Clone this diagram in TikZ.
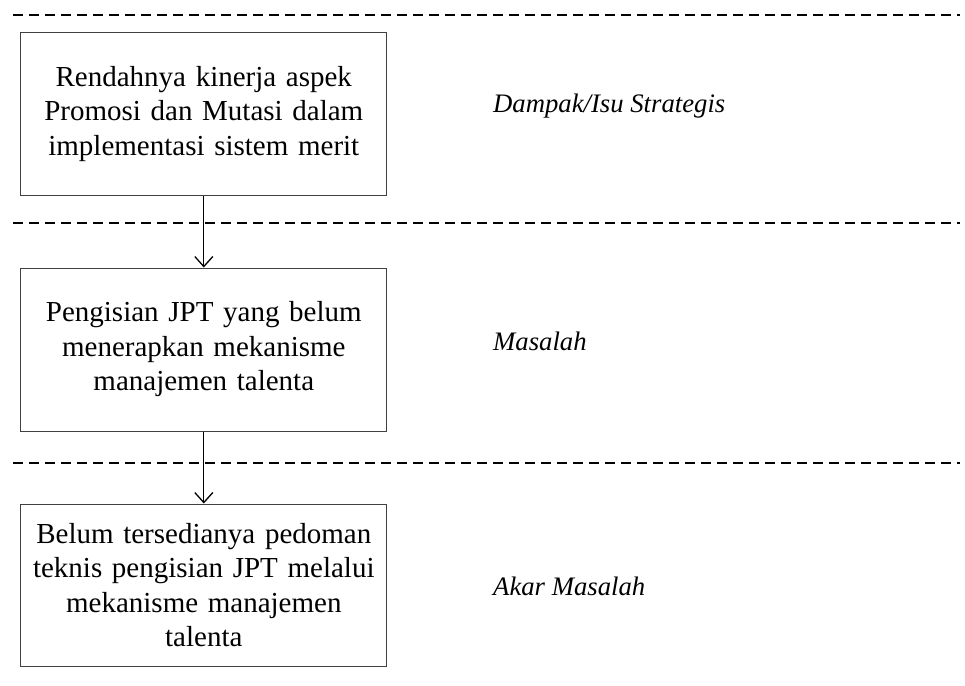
\documentclass[tikz,border=0pt]{standalone}
\usepackage{fontspec}
\setmainfont{Liberation Serif}
\usetikzlibrary{arrows.meta}
\tikzset{
  boxnode/.style={draw=black!75, line width=1pt, minimum width=366pt, minimum height=162pt,
    text width=362pt, align=center, inner sep=0pt,
    font=\fontsize{29}{34.5}\selectfont},
  levellabel/.style={anchor=base west, inner sep=0pt, font=\fontsize{26.7}{30}\selectfont\itshape},
  sepline/.style={line width=1.5pt, dash pattern=on 10pt off 6pt},
  flow/.style={line width=1.3pt, -{Straight Barb[length=10pt,width=18pt]}}
}
\begin{document}
\begin{tikzpicture}[x=1pt,y=-1pt]
\useasboundingbox (0,0) rectangle (965,685);
\draw[sepline] (13,15) -- (960,15);
\draw[sepline] (13,223) -- (960,223);
\draw[sepline] (13,463) -- (960,463);
\node[boxnode] (b1) at (203.8,114) {Rendahnya kinerja aspek\\Promosi dan Mutasi dalam\\implementasi sistem merit};
\node[boxnode, minimum height=163pt] (b2) at (203.8,349.5) {Pengisian JPT yang belum\\menerapkan mekanisme\\manajemen talenta};
\node[boxnode] (b3) at (203.8,585) {Belum tersedianya pedoman\\teknis pengisian JPT melalui\\mekanisme manajemen\\talenta};
\draw[flow] (b1) -- (b2);
\draw[flow] (b2) -- (b3);
\node[levellabel] (l1) at (493,112) {Dampak/Isu Strategis};
\node[levellabel] (l2) at (493,350) {Masalah};
\node[levellabel] (l3) at (493,595) {Akar Masalah};
\end{tikzpicture}
\end{document}
